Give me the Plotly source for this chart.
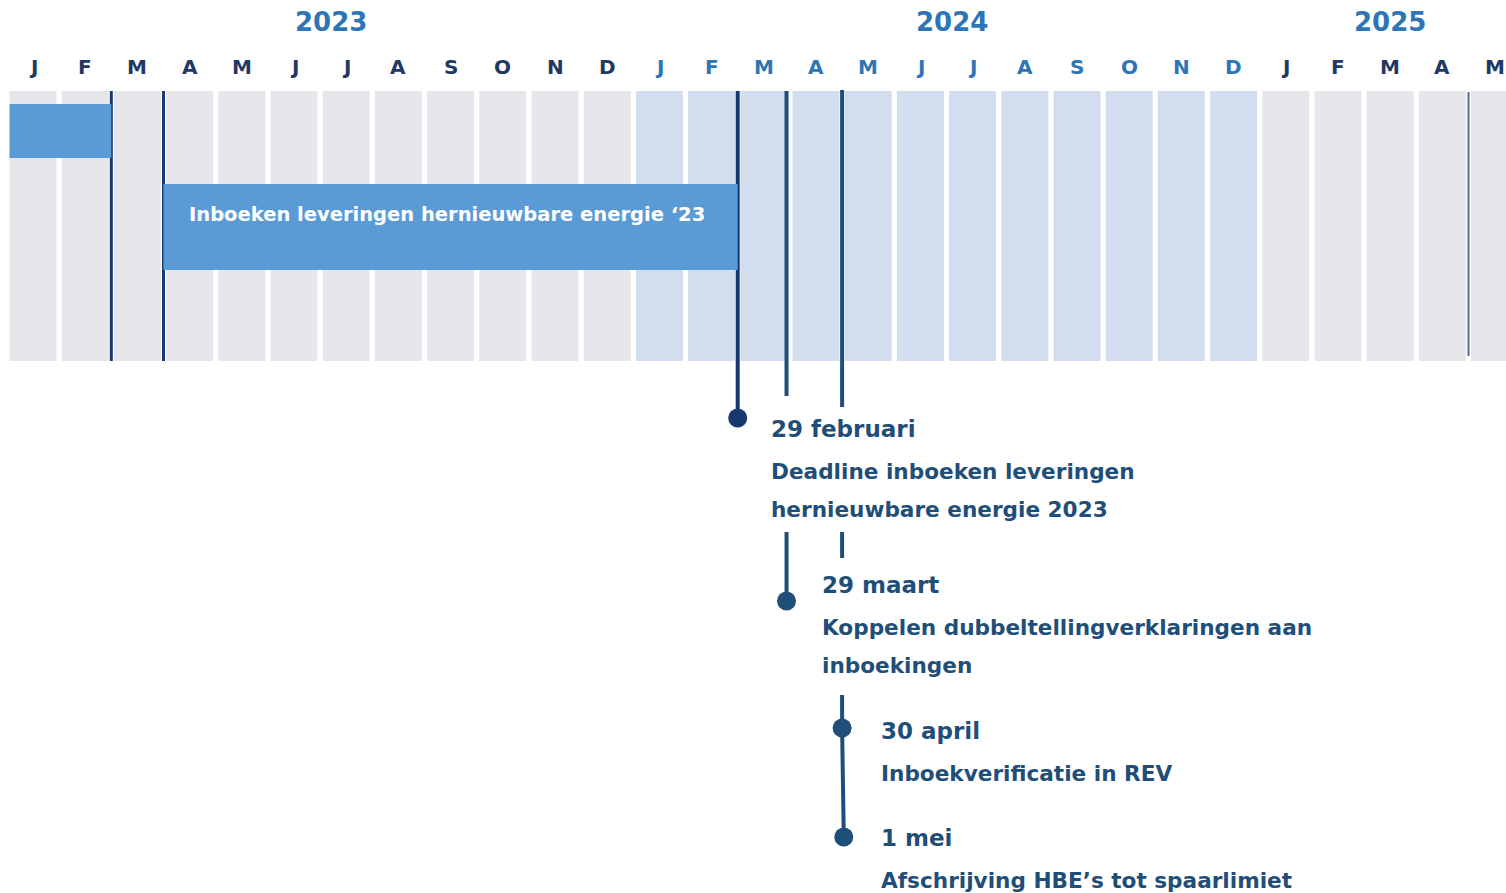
import calendar
import plotly.graph_objects as go

# ---------------- data ----------------
month_labels = ["J", "F", "M", "A", "M", "J", "J", "A", "S", "O", "N", "D",
                "J", "F", "M", "A", "M", "J", "J", "A", "S", "O", "N", "D",
                "J", "F", "M", "A", "M"]
month_years = [2023] * 12 + [2024] * 12 + [2025] * 5

year_labels = ["2023", "2024", "2025"]
year_label_month = [5.7, 17.6, 26.0]  # position in month units

period_labels = ["", "Inboeken leveringen hernieuwbare energie \u201823"]
period_start = ["2023-01-01", "2023-04-01"]
period_end = ["2023-02-28", "2024-02-29"]

past_deadlines = ["2023-02-28", "2023-03-31"]
future_deadline = "2025-04-30"

ms_dates = ["2024-02-29", "2024-03-29", "2024-04-30", "2024-05-01"]
ms_titles = ["29 februari", "29 maart", "30 april", "1 mei"]
ms_desc = [
    ["Deadline inboeken leveringen", "hernieuwbare energie 2023"],
    ["Koppelen dubbeltellingverklaringen aan", "inboekingen"],
    ["Inboekverificatie in REV"],
    ["Afschrijving HBE\u2019s tot spaarlimiet"],
]

# ---------------- helpers ----------------
def pos(date, end=False):
    y, m, d = (int(v) for v in date.split("-"))
    k = (y - 2023) * 12 + (m - 1)
    dim = calendar.monthrange(y, m)[1]
    return k - 0.5 + ((d if end else d - 1) / dim)

FONT = "DejaVu Sans"
NAVY = "#1F3864"
BLUE = "#2E75B6"
STEEL = "#1F4E79"
GREY_COL = "#E6E7EB"
BLUE_COL = "#D2DEF0"
BAR = "#5B9BD5"

COL_TOP, COL_BOT = 91, 361

fig = go.Figure()
shapes = []
annotations = []

# month columns + labels
for i, (lab, yr) in enumerate(zip(month_labels, month_years)):
    shapes.append(dict(type="rect", xref="x", yref="y", x0=i - 0.45, x1=i + 0.45,
                       y0=COL_TOP, y1=COL_BOT, fillcolor=BLUE_COL if yr == 2024 else GREY_COL,
                       line=dict(width=0), layer="below"))
    annotations.append(dict(x=i, y=67, text=lab, showarrow=False, xanchor="center", yanchor="middle",
                            font=dict(family=FONT, size=20, color=BLUE if yr == 2024 else NAVY,
                                      weight="bold")))

for lab, mpos in zip(year_labels, year_label_month):
    annotations.append(dict(x=mpos, y=22, text=lab, showarrow=False, xanchor="center", yanchor="middle",
                            font=dict(family=FONT, size=26, color=BLUE, weight="bold")))

# period bars
bar_rows = [(104, 158), (184, 270)]
for lab, s, e, (y0, y1) in zip(period_labels, period_start, period_end, bar_rows):
    x0 = max(pos(s), -0.45)
    x1 = pos(e, end=True)
    shapes.append(dict(type="rect", xref="x", yref="y", x0=x0, x1=x1, y0=y0, y1=y1,
                       fillcolor=BAR, line=dict(width=0), layer="above"))
    if lab:
        annotations.append(dict(x=x0, y=214, text=lab, showarrow=False, xanchor="left",
                                yanchor="middle", xshift=23,
                                font=dict(family=FONT, size=19.5, color="white", weight="bold")))

# past / future deadline lines
for d in past_deadlines:
    x = pos(d, end=True)
    fig.add_trace(go.Scatter(x=[x, x], y=[COL_TOP, COL_BOT], mode="lines",
                             line=dict(color="#1B3A6E", width=3), hoverinfo="skip"))
xf = pos(future_deadline, end=True)
fig.add_trace(go.Scatter(x=[xf, xf], y=[COL_TOP + 1, COL_BOT - 5], mode="lines",
                         line=dict(color="#4F6B9E", width=2), hoverinfo="skip"))

# milestone lines
mx = [pos(d, end=True) for d in ms_dates]
fig.add_trace(go.Scatter(x=[mx[0], mx[0]], y=[COL_TOP, 418], mode="lines",
                         line=dict(color="#17376F", width=4), hoverinfo="skip"))
fig.add_trace(go.Scatter(x=[mx[1], mx[1], None, mx[1], mx[1]], y=[COL_TOP, 396, None, 532, 601],
                         mode="lines", line=dict(color=STEEL, width=4), hoverinfo="skip"))
fig.add_trace(go.Scatter(x=[mx[2], mx[2], None, mx[2], mx[2], None, mx[2], mx[2], mx[3]],
                         y=[COL_TOP - 1, 407, None, 532, 558, None, 695, 728, 837],
                         mode="lines", line=dict(color=STEEL, width=4), hoverinfo="skip"))

# milestone dots
ms_y = [418, 601, 728, 837]
ms_colors = ["#17376F", STEEL, STEEL, STEEL]
fig.add_trace(go.Scatter(x=mx, y=ms_y, mode="markers",
                         marker=dict(size=19, color=ms_colors, line=dict(width=0)), hoverinfo="skip"))

# milestone texts
title_y = [429, 585, 731, 838]
xshifts = [31, 33, 37, 35]
for x, t, desc, ty, xs in zip(mx, ms_titles, ms_desc, title_y, xshifts):
    annotations.append(dict(x=x, y=ty, text=t, showarrow=False, xanchor="left", yanchor="middle",
                            xshift=xs, font=dict(family=FONT, size=23, color=STEEL, weight="bold")))
    for j, line in enumerate(desc):
        annotations.append(dict(x=x, y=ty + 42 + 38 * j, text=line, showarrow=False, xanchor="left",
                                yanchor="middle", xshift=xs,
                                font=dict(family=FONT, size=21.6, color=STEEL, weight="bold")))

fig.update_layout(
    width=1506, height=893,
    margin=dict(l=0, r=0, t=0, b=0),
    paper_bgcolor="white", plot_bgcolor="white",
    showlegend=False,
    shapes=shapes, annotations=annotations,
    xaxis=dict(range=[-33 / 52.2, (1506 - 33) / 52.2], visible=False, fixedrange=True),
    yaxis=dict(range=[893, 0], visible=False, fixedrange=True),
)

fig.write_html("out.html", config={"displayModeBar": False},
               post_script="document.body.style.margin='0';document.body.style.overflow='hidden';")
